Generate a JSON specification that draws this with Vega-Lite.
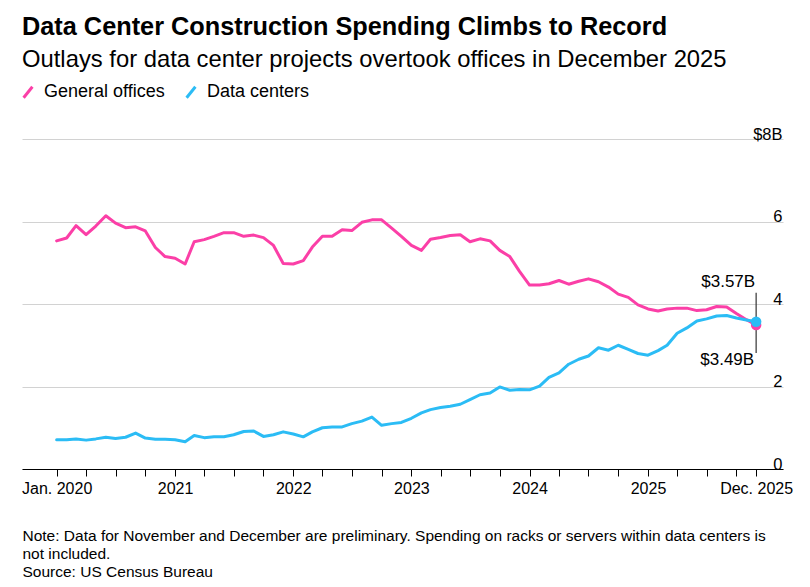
{
  "$schema": "https://vega.github.io/schema/vega-lite/v6.json",
  "width": 761,
  "height": 330,
  "autosize": {"type": "none"},
  "padding": {"left": 22, "top": 139, "right": 27, "bottom": 118},
  "background": "white",
  "config": {
    "view": {"stroke": null},
    "font": "Liberation Sans"
  },
  "title": {
    "text": "Data Center Construction Spending Climbs to Record",
    "subtitle": "Outlays for data center projects overtook offices in December 2025",
    "anchor": "start",
    "frame": "group",
    "font": "Liberation Sans",
    "fontSize": 25.3,
    "fontWeight": "bold",
    "color": "black",
    "subtitleFont": "Liberation Sans",
    "subtitleFontSize": 23.8,
    "subtitleColor": "black",
    "subtitlePadding": 8,
    "offset": 11
  },
  "datasets": {
    "series": [
      {"date": "2020-01-01", "series": "General offices", "value": 5.53},
      {"date": "2020-02-01", "series": "General offices", "value": 5.60},
      {"date": "2020-03-01", "series": "General offices", "value": 5.90},
      {"date": "2020-04-01", "series": "General offices", "value": 5.68},
      {"date": "2020-05-01", "series": "General offices", "value": 5.89},
      {"date": "2020-06-01", "series": "General offices", "value": 6.14},
      {"date": "2020-07-01", "series": "General offices", "value": 5.96},
      {"date": "2020-08-01", "series": "General offices", "value": 5.85},
      {"date": "2020-09-01", "series": "General offices", "value": 5.87},
      {"date": "2020-10-01", "series": "General offices", "value": 5.77},
      {"date": "2020-11-01", "series": "General offices", "value": 5.37},
      {"date": "2020-12-01", "series": "General offices", "value": 5.15},
      {"date": "2021-01-01", "series": "General offices", "value": 5.11},
      {"date": "2021-02-01", "series": "General offices", "value": 4.97},
      {"date": "2021-03-01", "series": "General offices", "value": 5.51},
      {"date": "2021-04-01", "series": "General offices", "value": 5.56},
      {"date": "2021-05-01", "series": "General offices", "value": 5.64},
      {"date": "2021-06-01", "series": "General offices", "value": 5.73},
      {"date": "2021-07-01", "series": "General offices", "value": 5.73},
      {"date": "2021-08-01", "series": "General offices", "value": 5.64},
      {"date": "2021-09-01", "series": "General offices", "value": 5.67},
      {"date": "2021-10-01", "series": "General offices", "value": 5.61},
      {"date": "2021-11-01", "series": "General offices", "value": 5.42},
      {"date": "2021-12-01", "series": "General offices", "value": 4.98},
      {"date": "2022-01-01", "series": "General offices", "value": 4.97},
      {"date": "2022-02-01", "series": "General offices", "value": 5.05},
      {"date": "2022-03-01", "series": "General offices", "value": 5.38},
      {"date": "2022-04-01", "series": "General offices", "value": 5.64},
      {"date": "2022-05-01", "series": "General offices", "value": 5.64},
      {"date": "2022-06-01", "series": "General offices", "value": 5.80},
      {"date": "2022-07-01", "series": "General offices", "value": 5.78},
      {"date": "2022-08-01", "series": "General offices", "value": 5.98},
      {"date": "2022-09-01", "series": "General offices", "value": 6.04},
      {"date": "2022-10-01", "series": "General offices", "value": 6.04},
      {"date": "2022-11-01", "series": "General offices", "value": 5.84},
      {"date": "2022-12-01", "series": "General offices", "value": 5.64},
      {"date": "2023-01-01", "series": "General offices", "value": 5.42},
      {"date": "2023-02-01", "series": "General offices", "value": 5.30},
      {"date": "2023-03-01", "series": "General offices", "value": 5.57},
      {"date": "2023-04-01", "series": "General offices", "value": 5.61},
      {"date": "2023-05-01", "series": "General offices", "value": 5.66},
      {"date": "2023-06-01", "series": "General offices", "value": 5.68},
      {"date": "2023-07-01", "series": "General offices", "value": 5.51},
      {"date": "2023-08-01", "series": "General offices", "value": 5.58},
      {"date": "2023-09-01", "series": "General offices", "value": 5.53},
      {"date": "2023-10-01", "series": "General offices", "value": 5.30},
      {"date": "2023-11-01", "series": "General offices", "value": 5.15},
      {"date": "2023-12-01", "series": "General offices", "value": 4.79},
      {"date": "2024-01-01", "series": "General offices", "value": 4.46},
      {"date": "2024-02-01", "series": "General offices", "value": 4.46},
      {"date": "2024-03-01", "series": "General offices", "value": 4.49},
      {"date": "2024-04-01", "series": "General offices", "value": 4.57},
      {"date": "2024-05-01", "series": "General offices", "value": 4.48},
      {"date": "2024-06-01", "series": "General offices", "value": 4.55},
      {"date": "2024-07-01", "series": "General offices", "value": 4.61},
      {"date": "2024-08-01", "series": "General offices", "value": 4.54},
      {"date": "2024-09-01", "series": "General offices", "value": 4.41},
      {"date": "2024-10-01", "series": "General offices", "value": 4.24},
      {"date": "2024-11-01", "series": "General offices", "value": 4.16},
      {"date": "2024-12-01", "series": "General offices", "value": 3.98},
      {"date": "2025-01-01", "series": "General offices", "value": 3.88},
      {"date": "2025-02-01", "series": "General offices", "value": 3.83},
      {"date": "2025-03-01", "series": "General offices", "value": 3.88},
      {"date": "2025-04-01", "series": "General offices", "value": 3.90},
      {"date": "2025-05-01", "series": "General offices", "value": 3.90},
      {"date": "2025-06-01", "series": "General offices", "value": 3.84},
      {"date": "2025-07-01", "series": "General offices", "value": 3.86},
      {"date": "2025-08-01", "series": "General offices", "value": 3.94},
      {"date": "2025-09-01", "series": "General offices", "value": 3.93},
      {"date": "2025-10-01", "series": "General offices", "value": 3.77},
      {"date": "2025-11-01", "series": "General offices", "value": 3.62},
      {"date": "2025-12-01", "series": "General offices", "value": 3.49},
      {"date": "2020-01-01", "series": "Data centers", "value": 0.71},
      {"date": "2020-02-01", "series": "Data centers", "value": 0.71},
      {"date": "2020-03-01", "series": "Data centers", "value": 0.73},
      {"date": "2020-04-01", "series": "Data centers", "value": 0.70},
      {"date": "2020-05-01", "series": "Data centers", "value": 0.73},
      {"date": "2020-06-01", "series": "Data centers", "value": 0.77},
      {"date": "2020-07-01", "series": "Data centers", "value": 0.74},
      {"date": "2020-08-01", "series": "Data centers", "value": 0.77},
      {"date": "2020-09-01", "series": "Data centers", "value": 0.87},
      {"date": "2020-10-01", "series": "Data centers", "value": 0.75},
      {"date": "2020-11-01", "series": "Data centers", "value": 0.72},
      {"date": "2020-12-01", "series": "Data centers", "value": 0.72},
      {"date": "2021-01-01", "series": "Data centers", "value": 0.71},
      {"date": "2021-02-01", "series": "Data centers", "value": 0.66},
      {"date": "2021-03-01", "series": "Data centers", "value": 0.81},
      {"date": "2021-04-01", "series": "Data centers", "value": 0.76},
      {"date": "2021-05-01", "series": "Data centers", "value": 0.78},
      {"date": "2021-06-01", "series": "Data centers", "value": 0.78},
      {"date": "2021-07-01", "series": "Data centers", "value": 0.83},
      {"date": "2021-08-01", "series": "Data centers", "value": 0.91},
      {"date": "2021-09-01", "series": "Data centers", "value": 0.92},
      {"date": "2021-10-01", "series": "Data centers", "value": 0.79},
      {"date": "2021-11-01", "series": "Data centers", "value": 0.83},
      {"date": "2021-12-01", "series": "Data centers", "value": 0.90},
      {"date": "2022-01-01", "series": "Data centers", "value": 0.85},
      {"date": "2022-02-01", "series": "Data centers", "value": 0.78},
      {"date": "2022-03-01", "series": "Data centers", "value": 0.90},
      {"date": "2022-04-01", "series": "Data centers", "value": 1.00},
      {"date": "2022-05-01", "series": "Data centers", "value": 1.02},
      {"date": "2022-06-01", "series": "Data centers", "value": 1.02},
      {"date": "2022-07-01", "series": "Data centers", "value": 1.10},
      {"date": "2022-08-01", "series": "Data centers", "value": 1.16},
      {"date": "2022-09-01", "series": "Data centers", "value": 1.26},
      {"date": "2022-10-01", "series": "Data centers", "value": 1.06},
      {"date": "2022-11-01", "series": "Data centers", "value": 1.10},
      {"date": "2022-12-01", "series": "Data centers", "value": 1.13},
      {"date": "2023-01-01", "series": "Data centers", "value": 1.23},
      {"date": "2023-02-01", "series": "Data centers", "value": 1.36},
      {"date": "2023-03-01", "series": "Data centers", "value": 1.44},
      {"date": "2023-04-01", "series": "Data centers", "value": 1.49},
      {"date": "2023-05-01", "series": "Data centers", "value": 1.52},
      {"date": "2023-06-01", "series": "Data centers", "value": 1.57},
      {"date": "2023-07-01", "series": "Data centers", "value": 1.68},
      {"date": "2023-08-01", "series": "Data centers", "value": 1.80},
      {"date": "2023-09-01", "series": "Data centers", "value": 1.84},
      {"date": "2023-10-01", "series": "Data centers", "value": 1.99},
      {"date": "2023-11-01", "series": "Data centers", "value": 1.91},
      {"date": "2023-12-01", "series": "Data centers", "value": 1.93},
      {"date": "2024-01-01", "series": "Data centers", "value": 1.92},
      {"date": "2024-02-01", "series": "Data centers", "value": 2.01},
      {"date": "2024-03-01", "series": "Data centers", "value": 2.22},
      {"date": "2024-04-01", "series": "Data centers", "value": 2.33},
      {"date": "2024-05-01", "series": "Data centers", "value": 2.54},
      {"date": "2024-06-01", "series": "Data centers", "value": 2.66},
      {"date": "2024-07-01", "series": "Data centers", "value": 2.74},
      {"date": "2024-08-01", "series": "Data centers", "value": 2.94},
      {"date": "2024-09-01", "series": "Data centers", "value": 2.88},
      {"date": "2024-10-01", "series": "Data centers", "value": 3.00},
      {"date": "2024-11-01", "series": "Data centers", "value": 2.90},
      {"date": "2024-12-01", "series": "Data centers", "value": 2.80},
      {"date": "2025-01-01", "series": "Data centers", "value": 2.76},
      {"date": "2025-02-01", "series": "Data centers", "value": 2.87},
      {"date": "2025-03-01", "series": "Data centers", "value": 3.00},
      {"date": "2025-04-01", "series": "Data centers", "value": 3.29},
      {"date": "2025-05-01", "series": "Data centers", "value": 3.42},
      {"date": "2025-06-01", "series": "Data centers", "value": 3.59},
      {"date": "2025-07-01", "series": "Data centers", "value": 3.64},
      {"date": "2025-08-01", "series": "Data centers", "value": 3.71},
      {"date": "2025-09-01", "series": "Data centers", "value": 3.72},
      {"date": "2025-10-01", "series": "Data centers", "value": 3.66},
      {"date": "2025-11-01", "series": "Data centers", "value": 3.61},
      {"date": "2025-12-01", "series": "Data centers", "value": 3.57}
    ],
    "ends": [
      {"date": "2025-12-01", "series": "General offices", "value": 3.49, "label": "$3.49B", "lineEnd": 2.81},
      {"date": "2025-12-01", "series": "Data centers", "value": 3.57, "label": "$3.57B", "lineEnd": 4.27}
    ]
  },
  "encoding": {
    "x": {
      "field": "date",
      "type": "temporal",
      "scale": {
        "type": "utc",
        "domain": [
          {"year": 2019, "month": 9, "date": 16, "utc": true},
          {"year": 2026, "month": 2, "date": 22, "utc": true}
        ]
      },
      "axis": {
        "orient": "bottom",
        "values": [
          {"year": 2020, "month": 1, "date": 1, "utc": true},
          {"year": 2020, "month": 4, "date": 1, "utc": true},
          {"year": 2020, "month": 7, "date": 1, "utc": true},
          {"year": 2020, "month": 10, "date": 1, "utc": true},
          {"year": 2021, "month": 1, "date": 1, "utc": true},
          {"year": 2021, "month": 4, "date": 1, "utc": true},
          {"year": 2021, "month": 7, "date": 1, "utc": true},
          {"year": 2021, "month": 10, "date": 1, "utc": true},
          {"year": 2022, "month": 1, "date": 1, "utc": true},
          {"year": 2022, "month": 4, "date": 1, "utc": true},
          {"year": 2022, "month": 7, "date": 1, "utc": true},
          {"year": 2022, "month": 10, "date": 1, "utc": true},
          {"year": 2023, "month": 1, "date": 1, "utc": true},
          {"year": 2023, "month": 4, "date": 1, "utc": true},
          {"year": 2023, "month": 7, "date": 1, "utc": true},
          {"year": 2023, "month": 10, "date": 1, "utc": true},
          {"year": 2024, "month": 1, "date": 1, "utc": true},
          {"year": 2024, "month": 4, "date": 1, "utc": true},
          {"year": 2024, "month": 7, "date": 1, "utc": true},
          {"year": 2024, "month": 10, "date": 1, "utc": true},
          {"year": 2025, "month": 1, "date": 1, "utc": true},
          {"year": 2025, "month": 4, "date": 1, "utc": true},
          {"year": 2025, "month": 7, "date": 1, "utc": true},
          {"year": 2025, "month": 10, "date": 1, "utc": true},
          {"year": 2025, "month": 12, "date": 1, "utc": true}
        ],
        "labelExpr": "utcFormat(datum.value, '%m') == '01' ? (utcFormat(datum.value, '%Y') == '2020' ? 'Jan. 2020' : utcFormat(datum.value, '%Y')) : (utcFormat(datum.value, '%m') == '12' ? 'Dec. 2025' : '')",
        "grid": false,
        "domain": true,
        "domainColor": "black",
        "domainWidth": 1,
        "ticks": true,
        "tickColor": "black",
        "tickSize": 7,
        "tickWidth": 1,
        "labelFontSize": 16,
        "labelColor": "black",
        "labelPadding": 4,
        "labelOverlap": false,
        "labelFlush": false,
        "labelBound": false,
        "title": [
          "Note: Data for November and December are preliminary. Spending on racks or servers within data centers is",
          "not included.",
          "Source: US Census Bureau"
        ],
        "titleFontSize": 15.5,
        "titleFontWeight": "normal",
        "titleColor": "black",
        "titleAnchor": "start",
        "titleAlign": "left",
        "titleBaseline": "alphabetic",
        "titleLineHeight": 18,
        "titleX": 0,
        "titleY": 71
      }
    }
  },
  "layer": [
    {
      "data": {"name": "series"},
      "mark": {"type": "line", "strokeWidth": 3, "strokeJoin": "round", "strokeCap": "round"},
      "encoding": {
        "y": {
          "field": "value",
          "type": "quantitative",
          "scale": {"domain": [0, 8], "nice": false, "zero": false},
          "axis": {
            "orient": "right",
            "values": [0, 2, 4, 6, 8],
            "labelExpr": "datum.value == 8 ? '$8B' : datum.label",
            "domain": false,
            "ticks": false,
            "tickSize": 0,
            "labelPadding": -1,
            "labelAlign": "right",
            "labelBaseline": "alphabetic",
            "labelDy": -8,
            "labelFontSize": 16.5,
            "labelColor": "black",
            "labelFlush": false,
            "labelOverlap": false,
            "labelBound": false,
            "grid": true,
            "gridColor": "#d2d2d2",
            "gridWidth": 1,
            "title": null
          }
        },
        "color": {
          "field": "series",
          "type": "nominal",
          "scale": {"domain": ["General offices", "Data centers"], "range": ["#fb3fa7", "#2bbcf5"]},
          "legend": {
            "orient": "none",
            "legendX": -3,
            "legendY": -56,
            "direction": "horizontal",
            "title": null,
            "symbolType": "M-0.8,1L0.8,-1",
            "symbolSize": 121,
            "symbolStrokeWidth": 3,
            "labelFontSize": 18,
            "labelColor": "black",
            "labelOffset": 7,
            "columnPadding": 15,
            "padding": 0
          }
        },
        "order": {"field": "series", "sort": "ascending"}
      }
    },
    {
      "data": {"name": "ends"},
      "mark": {"type": "rule", "color": "#333333", "strokeWidth": 1.2},
      "encoding": {
        "y": {"field": "value", "type": "quantitative"},
        "y2": {"field": "lineEnd"}
      }
    },
    {
      "data": {"name": "ends"},
      "mark": {"type": "point", "filled": true, "size": 110, "opacity": 1},
      "encoding": {
        "y": {"field": "value", "type": "quantitative"},
        "color": {"field": "series", "type": "nominal", "legend": null},
        "order": {"field": "value", "sort": "ascending"}
      }
    },
    {
      "data": {"name": "ends"},
      "transform": [{"filter": "datum.series == 'Data centers'"}],
      "mark": {"type": "text", "align": "right", "baseline": "alphabetic", "dx": -1, "dy": -35, "fontSize": 17, "color": "black"},
      "encoding": {
        "y": {"field": "value", "type": "quantitative"},
        "text": {"field": "label"}
      }
    },
    {
      "data": {"name": "ends"},
      "transform": [{"filter": "datum.series == 'General offices'"}],
      "mark": {"type": "text", "align": "right", "baseline": "alphabetic", "dx": -2, "dy": 40, "fontSize": 17, "color": "black"},
      "encoding": {
        "y": {"field": "value", "type": "quantitative"},
        "text": {"field": "label"}
      }
    }
  ]
}
